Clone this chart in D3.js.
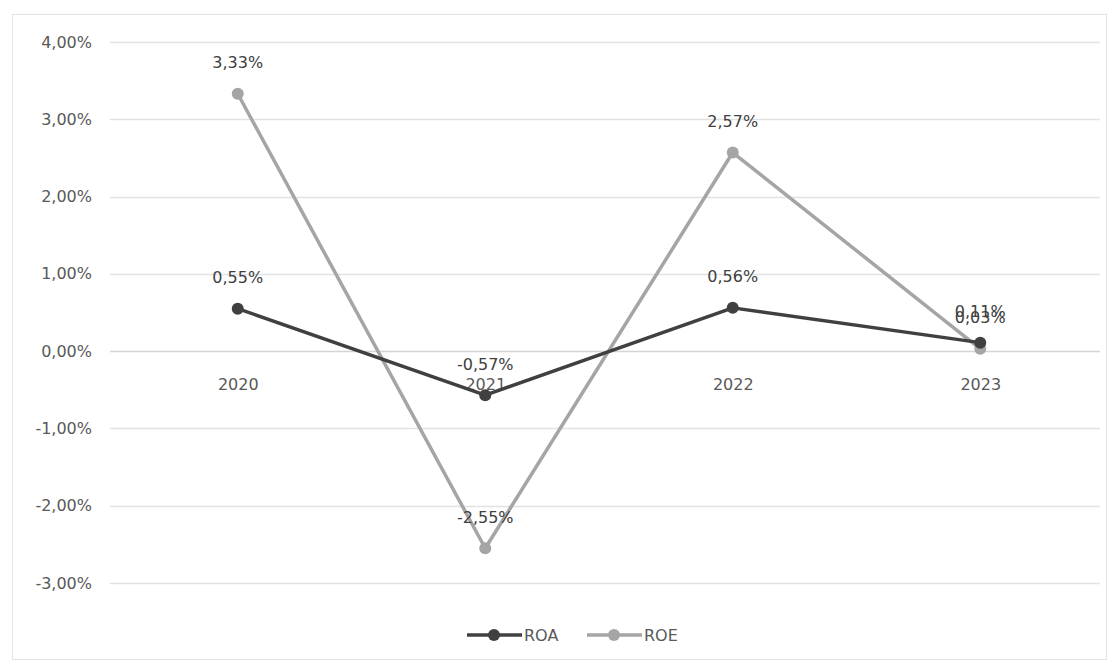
<!DOCTYPE html>
<html>
<head>
<meta charset="utf-8">
<script src="https://cdn.jsdelivr.net/npm/d3@7"></script>
<style>
  html, body { margin: 0; padding: 0; background: #fff; }
  svg { display: block; font-family: "DejaVu Sans", "Liberation Sans", sans-serif; }
</style>
</head>
<body>
<svg id="chart" width="1119" height="665"></svg>
<script>
// Years on the horizontal axis
const years = ["2020", "2021", "2022", "2023"];
// Return on assets and return on equity, in percent
const roa = [0.55, -0.57, 0.56, 0.11];
const roe = [3.33, -2.55, 2.57, 0.03];
// Value axis ticks, in percent
const yTicks = [-3, -2, -1, 0, 1, 2, 3, 4];

const series = [
  { name: "ROA", values: roa, color: "#404040" },
  { name: "ROE", values: roe, color: "#a5a5a5" }
];

const svg = d3.select("#chart");
const W = 1119, H = 665;
const FONT = "\"DejaVu Sans\", \"Liberation Sans\", sans-serif";
const FS = 16;

// outer frame of the chart
svg.append("rect")
  .attr("x", 12.5).attr("y", 14.5)
  .attr("width", W - 25).attr("height", H - 20)
  .attr("fill", "#fff").attr("stroke", "#e3e3e3").attr("stroke-width", 1);

const plot = { left: 114, right: 1104, top: 42, bottom: 583 };

const x = d3.scalePoint().domain(years).range([plot.left, plot.right]).padding(0.5);
const y = d3.scaleLinear().domain([-3, 4]).range([plot.bottom, plot.top]);

// decimal comma, plain hyphen for negatives
const fmt = v => d3.format(".2f")(v).replace("\u2212", "-").replace(".", ",") + "%";

// horizontal gridlines
svg.append("g")
  .selectAll("line")
  .data(yTicks)
  .join("line")
  .attr("x1", plot.left - 4).attr("x2", plot.right - 4)
  .attr("y1", d => Math.round(y(d)) + 0.5).attr("y2", d => Math.round(y(d)) + 0.5)
  .attr("stroke", d => d === 0 ? "#d4d4d4" : "#e2e2e2")
  .attr("stroke-width", 1.5);

// value axis labels
const yAxis = d3.axisLeft(y).tickValues(yTicks).tickSize(0).tickPadding(0)
  .tickFormat(fmt);
const gy = svg.append("g").attr("transform", `translate(${plot.left - 22},0)`).call(yAxis);
gy.select(".domain").remove();
gy.selectAll("text").attr("fill", "#595959").attr("font-size", FS)
  .attr("font-family", FONT);

// category labels sit just under the zero line
const xAxis = d3.axisBottom(x).tickSize(0).tickPadding(0);
const gx = svg.append("g").attr("transform", `translate(0,${y(0) + 33})`).call(xAxis);
gx.select(".domain").remove();
gx.selectAll("text").attr("fill", "#595959").attr("font-size", FS).attr("dy", "0.35em")
  .attr("font-family", FONT);

const line = d3.line().x((d, i) => x(years[i])).y(d => y(d));

// ROE is drawn first so ROA sits on top
const order = [series[1], series[0]];
order.forEach(s => {
  const g = svg.append("g");
  g.append("path")
    .attr("d", line(s.values))
    .attr("fill", "none")
    .attr("stroke", s.color)
    .attr("stroke-width", 3.5)
    .attr("stroke-linejoin", "round")
    .attr("stroke-linecap", "round");
  g.selectAll("circle")
    .data(s.values)
    .join("circle")
    .attr("cx", (d, i) => x(years[i]))
    .attr("cy", d => y(d))
    .attr("r", 6)
    .attr("fill", s.color);
});

// value labels above each point
series.forEach(s => {
  svg.append("g")
    .selectAll("text")
    .data(s.values)
    .join("text")
    .attr("x", (d, i) => x(years[i]))
    .attr("y", d => y(d) - 31)
    .attr("dy", "0.35em")
    .attr("text-anchor", "middle")
    .attr("fill", "#404040")
    .attr("font-size", FS)
    .text(d => fmt(d));
});

// legend
const legend = svg.append("g").attr("transform", "translate(0,635)");
const legendItems = [
  { s: series[0], x0: 467 },
  { s: series[1], x0: 587 }
];
legendItems.forEach(({ s, x0 }) => {
  legend.append("line")
    .attr("x1", x0).attr("x2", x0 + 55)
    .attr("y1", 0).attr("y2", 0)
    .attr("stroke", s.color).attr("stroke-width", 3.5);
  legend.append("circle")
    .attr("cx", x0 + 27).attr("cy", 0).attr("r", 6)
    .attr("fill", s.color);
  legend.append("text")
    .attr("x", x0 + 57).attr("y", 0).attr("dy", "0.35em")
    .attr("fill", "#595959").attr("font-size", FS)
    .text(s.name);
});
</script>
</body>
</html>
